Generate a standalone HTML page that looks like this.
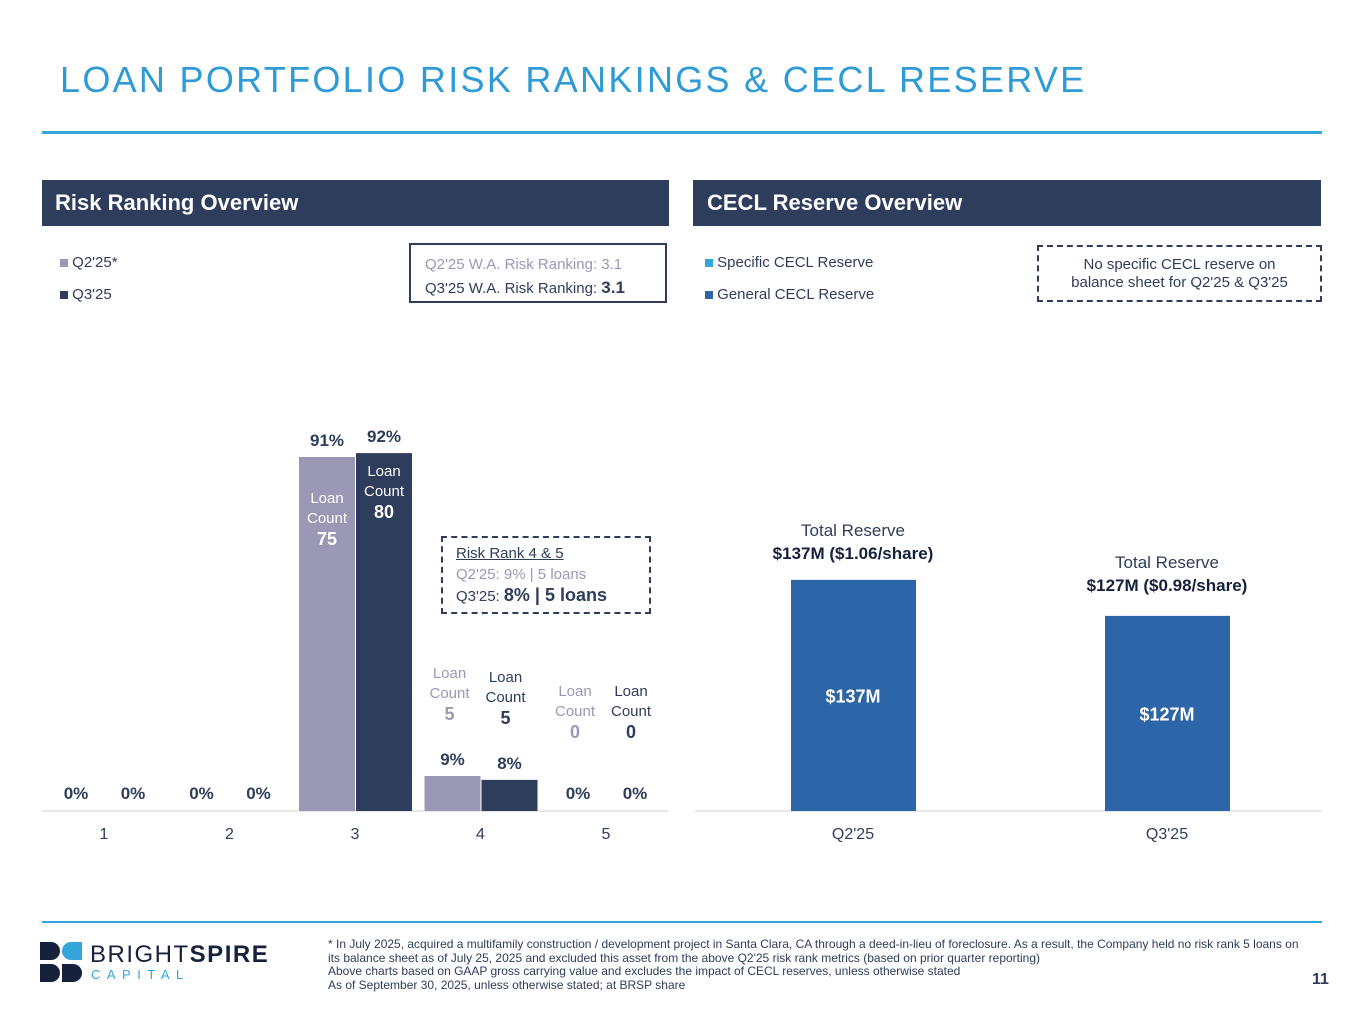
<!DOCTYPE html>
<html><head><meta charset="utf-8"><style>
body{margin:0;width:1365px;height:1024px;background:#fff;font-family:"Liberation Sans",sans-serif;position:relative;overflow:hidden;color:#2e3d5b}
.a{position:absolute}
.c{text-align:center}
</style></head><body>
<div class="a" style="left:60px;top:59px;font-size:36px;letter-spacing:2.3px;color:#2f9bd6">LOAN PORTFOLIO RISK RANKINGS &amp; CECL RESERVE</div>
<div class="a" style="left:42px;top:131px;width:1280px;height:3px;background:#35a6db"></div>
<div class="a" style="left:42px;top:180px;width:627px;height:46px;background:#2e3d5b;color:#fff;font-weight:bold;font-size:22px;line-height:46px;padding-left:13px;box-sizing:border-box">Risk Ranking Overview</div>
<div class="a" style="left:693px;top:180px;width:628px;height:46px;background:#2e3d5b;color:#fff;font-weight:bold;font-size:22px;line-height:46px;padding-left:14px;box-sizing:border-box">CECL Reserve Overview</div>
<div class="a" style="left:60px;top:254px;font-size:15px"><span style="display:inline-block;width:8px;height:8px;background:#9a98b5"></span> Q2'25*</div>
<div class="a" style="left:60px;top:286px;font-size:15px"><span style="display:inline-block;width:8px;height:8px;background:#2e3d5b"></span> Q3'25</div>
<div class="a" style="left:409px;top:243px;width:258px;height:60px;border:2px solid #2e3d5b;box-sizing:border-box;font-size:15px;padding:8px 0 0 14px;line-height:23px"><span style="color:#9a98b5">Q2'25 W.A. Risk Ranking: 3.1</span><br>Q3'25 W.A. Risk Ranking: <b style="font-size:17px">3.1</b></div>
<div class="a" style="left:705px;top:254px;font-size:15px"><span style="display:inline-block;width:8px;height:8px;background:#35a6db"></span> Specific CECL Reserve</div>
<div class="a" style="left:705px;top:286px;font-size:15px"><span style="display:inline-block;width:8px;height:8px;background:#2d66a8"></span> General CECL Reserve</div>
<div class="a c" style="left:1037px;top:245px;width:285px;height:57px;border:2px dashed #2e3d5b;box-sizing:border-box;font-size:15px;line-height:18px;padding-top:9px">No specific CECL reserve on<br>balance sheet for Q2'25 &amp; Q3'25</div>
<div class="a" style="left:441px;top:536px;width:210px;height:78px;border:2px dashed #2e3d5b;box-sizing:border-box;font-size:15px;line-height:21px;padding:5px 0 0 13px"><u>Risk Rank 4 &amp; 5</u><br><span style="color:#9a98b5">Q2'25: 9% | 5 loans</span><br>Q3'25: <b style="font-size:18px">8% | 5 loans</b></div>
<svg class="a" style="left:0;top:0" width="1365" height="1024" id="svg"></svg>
<div class="a" style="left:42px;top:921px;width:1280px;height:2px;background:#35a6db"></div>
<div class="a" style="left:40px;top:942px;width:260px;height:42px">
<div class="a" style="left:0;top:0;width:20px;height:18px;background:#16213e;border-radius:0 9px 9px 0"></div>
<div class="a" style="left:22px;top:0;width:20px;height:18px;background:#35a6db;border-radius:9px 0 0 9px"></div>
<div class="a" style="left:0;top:22px;width:20px;height:18px;background:#16213e;border-radius:0 9px 9px 0"></div>
<div class="a" style="left:22px;top:22px;width:20px;height:18px;background:#16213e;border-radius:0 9px 9px 0"></div>
<div class="a" style="left:50px;top:-1px;font-size:24px;letter-spacing:1.5px;color:#16213e;white-space:nowrap">BRIGHT<b>SPIRE</b></div>
<div class="a" style="left:51px;top:25px;font-size:13px;letter-spacing:6.5px;color:#35a6db">CAPITAL</div>
</div>
<div class="a" style="left:328px;top:938px;width:985px;font-size:12px;line-height:13.5px;color:#2e3d5b">* In July 2025, acquired a multifamily construction / development project in Santa Clara, CA through a deed-in-lieu of foreclosure. As a result, the Company held no risk rank 5 loans on its balance sheet as of July 25, 2025 and excluded this asset from the above Q2'25 risk rank metrics (based on prior quarter reporting)<br>Above charts based on GAAP gross carrying value and excludes the impact of CECL reserves, unless otherwise stated<br>As of September 30, 2025, unless otherwise stated; at BRSP share</div>
<div class="a" style="left:1312px;top:971px;font-size:16px;font-weight:bold">11</div>
<script>
const riskCats=["1","2","3","4","5"];
const q2Pct=[0,0,91,9,0];
const q3Pct=[0,0,92,8,0];
const q2Loans=[null,null,75,5,0];
const q3Loans=[null,null,80,5,0];
const ceclCats=["Q2'25","Q3'25"];
const ceclVals=[137,127];
const ceclPerShare=["1.06","0.98"];
const NS="http://www.w3.org/2000/svg";
const svg=document.getElementById('svg');
function el(t,a,txt){const e=document.createElementNS(NS,t);for(const k in a)e.setAttribute(k,a[k]);if(txt!=null)e.textContent=txt;svg.appendChild(e);return e;}
const base=811;
const xL=i=>104+i*125.5;
const yL=v=>base-v*3.89;
let e=el('line',{x1:42,x2:668,y1:base,y2:base,stroke:'#d0d0d0'});

riskCats.forEach((c,i)=>{
 const cx=xL(i);
 [[q2Pct,q2Loans,'#9a98b5',-56,'#9a98b5'],[q3Pct,q3Loans,'#2e3d5b',0,'#2e3d5b']].forEach(([p,l,col,off,tc],k)=>{
  const x=cx+off+(k?1:0),w=56,y=yL(p[i]);
  const r=el('rect',{x:x,y:y,width:w,height:base-y,fill:col});
  
  const t=el('text',{x:x+w/2,y:p[i]?y-11:base-12,'text-anchor':'middle','font-size':17,'font-weight':'bold',fill:'#2e3d5b'},p[i]+'%');
  
  if(l[i]!=null){
   const lc=p[i]>50?'#fff':tc;
   const yy=p[i]>50?y+(k?23:46):(p[i]>5?yL(p[3])-98:base-115);
   const lx=x+w/2+(p[i]>50?0:(k?-4:-3));
   const g1=el('text',{x:lx,y:yy,'text-anchor':'middle','font-size':15,fill:lc},'Loan');
   
   el('text',{x:lx,y:yy+20,'text-anchor':'middle','font-size':15,fill:lc},'Count');
   el('text',{x:lx,y:yy+42,'text-anchor':'middle','font-size':18,'font-weight':'bold',fill:lc},l[i]);
  }
 });
 const tl=el('text',{x:cx,y:base+28,'text-anchor':'middle','font-size':16,fill:'#2e3d5b'},c);
 
});
const xR=i=>853+i*314;
const yR=v=>base-(v-72.8)*3.6;
e=el('line',{x1:695,x2:1322,y1:base,y2:base,stroke:'#d0d0d0'});

ceclCats.forEach((c,i)=>{
 const cx=xR(i),y=yR(ceclVals[i]);
 const r=el('rect',{x:cx-62,y:y,width:125,height:base-y,fill:'#2d66a8'});
 
 el('text',{x:cx,y:y+(base-y)/2+7,'text-anchor':'middle','font-size':18,'font-weight':'bold',fill:'#fff'},'$'+ceclVals[i]+'M');
 const t=el('text',{x:cx,y:y-44-(i?4:0),'text-anchor':'middle','font-size':17,fill:'#2e3d5b'},'Total Reserve');
 
 el('text',{x:cx,y:y-21-(i?4:0),'text-anchor':'middle','font-size':17,'font-weight':'bold',fill:'#16213e'},'$'+ceclVals[i]+'M ($'+ceclPerShare[i]+'/share)');
 const tl=el('text',{x:cx,y:base+28,'text-anchor':'middle','font-size':16,fill:'#2e3d5b'},c);
 
});
</script>
</body></html>
